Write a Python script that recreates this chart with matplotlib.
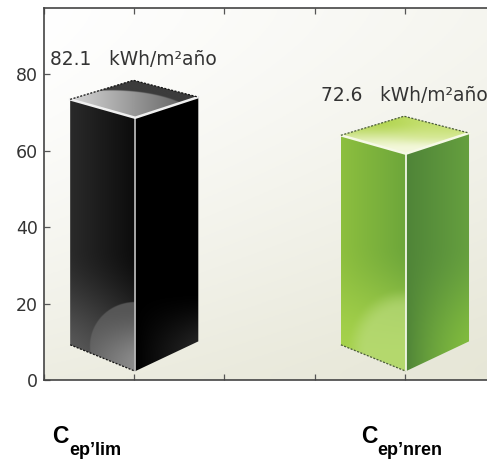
import numpy as np
import matplotlib
matplotlib.use("Agg")
import matplotlib.pyplot as plt
from matplotlib.patches import Polygon

categories = ["ep\u2019lim", "ep\u2019nren"]
label_values = [82.1, 72.6]
unit = "kWh/m\u00b2a\u00f1o"
bar_positions = [1.0, 4.0]
bar_tops = [78.4, 69.0]
bar_bottoms = [2.3, 2.3]
y_ticks = [0, 20, 40, 60, 80]
x_ticks = [0, 1, 2, 3, 4]
XMAX, YMAX = 4.92, 97.3
HW = 0.71

W, H = 487, 459
fig = plt.figure(figsize=(W / 100, H / 100), dpi=100)
ax = fig.add_axes([44 / W, (H - 380) / H, (W - 44) / W + 0.002, 372 / H])
ax.set_xlim(0, XMAX)
ax.set_ylim(0, YMAX)


def hex2(c):
    return np.array(matplotlib.colors.to_rgb(c))


def lerp(a, b, t):
    return a * (1 - t[..., None]) + b * t[..., None]


def smooth(e0, e1, x):
    t = np.clip((x - e0) / (e1 - e0), 0, 1)
    return t * t * (3 - 2 * t)


# background gradient
gy, gx = np.mgrid[0:1:200j, 0:1:200j]
t_bg = np.clip(0.72 * gy ** 1.5 + 0.22 * gx * gy + 0.38 * gx * (1 - gy) ** 0.5, 0, 1)
bg = hex2("#ffffff") * (1 - t_bg[..., None]) + hex2("#e6e6d6") * t_bg[..., None]
ax.imshow(bg, extent=[0, XMAX, 0, YMAX], origin="upper", aspect="auto", zorder=0)


def paint(poly, fn, z=2):
    xs, ys = zip(*poly)
    x0, x1, y0, y1 = min(xs), max(xs), min(ys), max(ys)
    Y, X = np.mgrid[y0:y1:400j, x0:x1:240j]
    im = ax.imshow(np.clip(fn(X, Y), 0, 1), extent=[x0, x1, y0, y1], origin="lower",
                   aspect="auto", zorder=z, interpolation="bilinear")
    p = Polygon(poly, closed=True, transform=ax.transData, fc="none", ec="none")
    ax.add_patch(p)
    im.set_clip_path(p)


def ell(X, Y, cx, cy, rx, ry):
    return ((X - cx) / rx) ** 2 + ((Y - cy) / ry) ** 2


def draw_box(xc, top, bottom, scheme):
    front_top = top - 9.8
    side_top = top - 5.0
    side_bot = bottom + 6.9
    l, r = xc - HW, xc + HW
    f = xc + 0.01
    left = [(l, side_top), (f, front_top), (f, bottom), (l, side_bot)]
    right = [(f, front_top), (r, side_top + 0.6), (r, side_bot + 0.9), (f, bottom)]
    lid = [(l, side_top), (xc - 0.01, top), (r, side_top + 0.6), (f, front_top)]

    if scheme == "black":
        def lf(X, Y):
            u = (X - l) / (f - l)
            v = (Y - bottom) / (top - bottom)
            base = lerp(hex2("#2a2a2a") * np.ones(X.shape + (3,)), hex2("#0c0c0c"), u)
            low = smooth(0.42, 0.0, v)
            base = lerp(base, hex2("#5e5e5e"), low * (1 - 0.45 * u))
            m = smooth(1.02, 0.97, ell(X, Y, f, bottom + 6.5, 0.5, 11.5))
            hl = lerp(hex2("#565656") * np.ones(X.shape + (3,)), hex2("#8c8c8c"), u * smooth(0.22, 0.02, v))
            return base * (1 - m[..., None]) + hl * m[..., None]

        def rf(X, Y):
            u = (X - f) / (r - f)
            v = (Y - bottom) / (top - bottom)
            c = np.zeros(X.shape + (3,))
            return lerp(c, hex2("#2c2c2c"), u * smooth(0.28, 0.05, v) * 0.9)

        def tf(X, Y):
            u = (X - l) / (r - l)
            c = np.ones(X.shape + (3,)) * hex2("#3c3c3c")
            m = smooth(1.02, 0.96, ell(X, Y, xc - 0.25, top - 12.8, 1.05, 10.2))
            hl = lerp(hex2("#d8d8d8") * np.ones(X.shape + (3,)), hex2("#565656"), u)
            return c * (1 - m[..., None]) + hl * m[..., None]
        front_c, edge_c, dot_c = "#b4b4b4", "#f0f0f0", "#111111"
    else:
        def lf(X, Y):
            u = (X - l) / (f - l)
            v = (Y - bottom) / (top - bottom)
            base = lerp(hex2("#8dbf3f") * np.ones(X.shape + (3,)), hex2("#6da63a"), u)
            base = lerp(base, hex2("#a6d24c"), smooth(0.5, 0.05, v))
            m = smooth(1.5, 0.6, ell(X, Y, f, bottom + 5.5, 0.55, 13.5))
            return lerp(base, hex2("#bcdc80"), m * 0.65)

        def rf(X, Y):
            u = (X - f) / (r - f)
            v = (Y - bottom) / (top - bottom)
            base = lerp(hex2("#4f8438") * np.ones(X.shape + (3,)), hex2("#66a03f"), u)
            return lerp(base, hex2("#83bd3e"), smooth(0.5, 0.05, v) * u)

        def tf(X, Y):
            u = (X - l) / (r - l)
            v = (Y - front_top) / (top - front_top)
            c = lerp(hex2("#f4f8dc") * np.ones(X.shape + (3,)), hex2("#b4d654"), smooth(0.1, 0.85, v))
            return lerp(c, hex2("#d4e88a"), 0.5 * smooth(0.3, 0.7, u) * smooth(0.2, 0.5, v))
        front_c, edge_c, dot_c = "#f2f6e6", "#f6f9e6", "#4a5a3a"

    paint(left, lf)
    paint(right, rf)
    paint(lid, tf)
    ax.plot([f, f], [front_top, bottom], color=front_c, lw=1.3, zorder=3, solid_capstyle="butt")
    ax.plot([l, f, r], [side_top, front_top, side_top + 0.6], color=edge_c, lw=1.8, zorder=3)
    ax.plot([l, xc - 0.01, r], [side_top, top, side_top + 0.6], color=dot_c, lw=0.9,
            ls=(0, (1.6, 1.2)), zorder=3)
    ax.plot([l, f], [side_bot, bottom], color=dot_c, lw=0.9, ls=(0, (1.6, 1.2)), zorder=3)


schemes = ["black", "green"]
for xc, top, bottom, s in zip(bar_positions, bar_tops, bar_bottoms, schemes):
    draw_box(xc, top, bottom, s)

ax.set_xlim(0, XMAX)
ax.set_ylim(0, YMAX)
ax.set_xticks(x_ticks)
ax.set_xticklabels([])
ax.set_yticks(y_ticks)
ax.tick_params(axis="both", direction="in", length=4.5, width=0.9, color="#555555",
               top=True, labelsize=12.5, labelcolor="#333333", pad=4.5)
for name, sp in ax.spines.items():
    sp.set_color("#444444")
    sp.set_linewidth(1.2)
    sp.set_zorder(5)
ax.spines["right"].set_visible(False)

ann_px = [(50, 65), (321, 101)]
for v, (px, py) in zip(label_values, ann_px):
    fig.text(px / W, 1 - py / H, f"{v}   {unit}", fontsize=13.4, color="#333333",
             family="DejaVu Sans", ha="left", va="baseline")

cat_px = [(52, 443, 69, 455), (361, 443, 377, 455)]
for cat, (cx, cy, sx, sy) in zip(categories, cat_px):
    fig.text(cx / W, 1 - cy / H, "C", fontsize=16.5, fontweight="bold", color="black",
             family="Liberation Sans", ha="left", va="baseline")
    fig.text(sx / W, 1 - sy / H, cat, fontsize=13, fontweight="bold", color="black",
             family="Liberation Sans", ha="left", va="baseline")

fig.savefig("out.png", dpi=100)
